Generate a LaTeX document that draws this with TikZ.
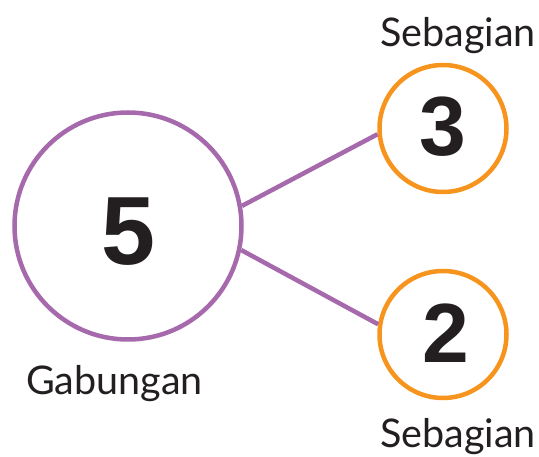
\documentclass[tikz,border=0pt]{standalone}
\usepackage{fontspec}
\setmainfont{Lato}
\newfontfamily\numfont{Liberation Sans}
\definecolor{purp}{HTML}{A569AC}
\definecolor{orng}{HTML}{F7941D}
\definecolor{ink}{HTML}{231F20}
\begin{document}
\begin{tikzpicture}[x=1pt,y=-1pt,
  bigc/.style={circle,draw=purp,line width=4.5pt,minimum size=227pt,inner sep=0pt},
  smallc/.style={circle,draw=orng,line width=4.5pt,minimum size=127pt,inner sep=0pt},
  conn/.style={draw=purp,line width=4.5pt},
  num/.style={text=ink,inner sep=0pt},
  lbl/.style={font=\fontsize{39.5}{41}\selectfont,text=ink,inner sep=0pt,anchor=base west}]
\useasboundingbox (0,0) rectangle (539,457);
\node[bigc] (g) at (128,226) {};
\node[smallc] (s1) at (443,128.5) {};
\node[smallc] (s2) at (443,334.5) {};
\node[num,font=\numfont\bfseries\fontsize{97}{97}\selectfont] (n5) at (128.5,232) {5};
\node[num,font=\numfont\bfseries\fontsize{84}{84}\selectfont] (n3) at (442.5,127) {3};
\node[num,font=\numfont\bfseries\fontsize{84}{84}\selectfont] (n2) at (446,333) {2};
\draw[conn] (g.10.4) -- (s1.185);
\draw[conn] (g.-12.8) -- (s2.171);
\node[lbl] (l1) at (380,47) {Sebagian};
\node[lbl] (l2) at (380,448) {Sebagian};
\node[lbl] (l3) at (26,395) {Gabungan};
\end{tikzpicture}
\end{document}
